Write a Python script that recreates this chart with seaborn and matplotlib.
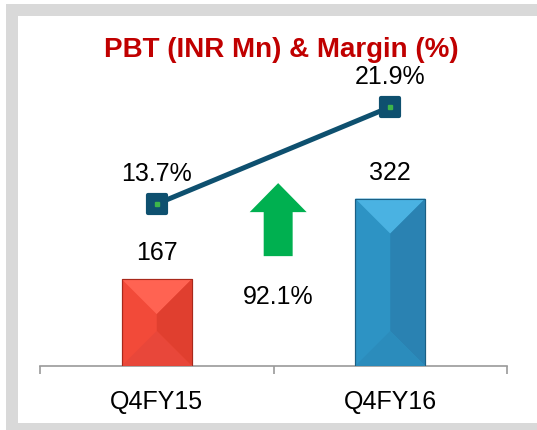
import numpy as np
import matplotlib
matplotlib.use("Agg")
import matplotlib.pyplot as plt
from matplotlib.patches import Polygon, FancyArrow
from matplotlib.markers import MarkerStyle
import matplotlib.transforms as mtransforms
import seaborn as sns

# data
quarters = ["Q4FY15", "Q4FY16"]
pbt = [167, 322]
margin = [13.7, 21.9]
pbt_labels = ["167", "322"]
margin_labels = ["13.7%", "21.9%"]
growth_label = "92.1%"
title = "PBT (INR Mn) & Margin (%)"

# colours: face, top, right, bottom, edge
bar_shades = [
    ("#F24A39", "#FF6352", "#E03F2F", "#E8473A", "#A8281B"),
    ("#2D93C4", "#4AB2E2", "#2A82B2", "#2B8CBC", "#1B5F84"),
]
line_color = "#0E506F"

sns.set_theme(style="white")
plt.rcParams["font.family"] = ["Liberation Sans", "DejaVu Sans"]

W, H = 537, 430
fig = plt.figure(figsize=(W / 100, H / 100), dpi=100, facecolor="white")

# grey frame: top, left and bottom strips (the right side runs off the slide)
grey = "#D9D9D9"
for (x, y, w, h) in [(6, 4, W, 12), (6, 4, 12, H), (6, 423, W, 10)]:
    fig.add_artist(plt.Rectangle((x / W, 1 - (y + h) / H), w / W, h / H,
                                 transform=fig.transFigure, facecolor=grey,
                                 edgecolor="none", zorder=-1))

ax = fig.add_axes([40 / W, 64 / H, 467 / W, 326 / H])
ax.set_facecolor("none")

sns.barplot(x=quarters, y=pbt, hue=quarters, palette=[s[0] for s in bar_shades],
            width=0.30, legend=False, ax=ax, saturation=1)
ax.set_xlim(-0.5, 1.5)
ax.set_ylim(0, 627)

# bevelled look on each bar
inv = ax.transData.inverted()
for patch, shade in zip(ax.patches, bar_shades):
    x0, y0 = patch.get_x(), 0
    x1, y1 = patch.get_x() + patch.get_width(), patch.get_height()
    (px0, py0), (px1, py1) = ax.transData.transform([(x0, y0), (x1, y1)])
    pc = (px0 + px1) / 2
    d = min((px1 - px0) / 2, (py1 - py0) / 2)
    faces = [
        ([(px0, py1), (px1, py1), (pc, py1 - d)], shade[1]),
        ([(px1, py0), (px1, py1), (pc, py1 - d), (pc, py0 + d)], shade[2]),
        ([(px0, py0), (px1, py0), (pc, py0 + d)], shade[3]),
    ]
    for pts, col in faces:
        ax.add_patch(Polygon(inv.transform(pts), closed=True, facecolor=col,
                             edgecolor="none", zorder=3))
    patch.set_edgecolor(shade[4])
    patch.set_linewidth(0.8)
    patch.set_zorder(2)
    ax.add_patch(plt.Rectangle((x0, y0), x1 - x0, y1, facecolor="none",
                               edgecolor=shade[4], linewidth=0.8, zorder=4))

for i, (v, lab) in enumerate(zip(pbt, pbt_labels)):
    ax.annotate(lab, (i, v), xytext=(0, 18.7), textcoords="offset points",
                ha="center", va="center", fontsize=18, color="black")

# axis styling
for side in ["top", "right", "left"]:
    ax.spines[side].set_visible(False)
ax.spines["bottom"].set_color("#9A9A9A")
ax.spines["bottom"].set_linewidth(1.2)
ax.set_yticks([])
ax.set_xticks(range(len(quarters)))
ax.set_xticklabels(quarters, fontsize=18, color="black")
ax.tick_params(axis="x", which="major", length=0, pad=17)
ax.set_xticks([-0.5, 0.5, 1.5], minor=True)
ax.tick_params(axis="x", which="minor", length=6, width=1.2, color="#9A9A9A",
               direction="out", bottom=True)
ax.set_xlabel("")
ax.set_ylabel("")

# margin line
ax2 = ax.twinx()
ax2.set_facecolor("none")
xpos = np.arange(len(quarters))
sns.lineplot(x=xpos, y=margin, color=line_color, linewidth=3.6, ax=ax2,
             marker=MarkerStyle("s", joinstyle="round"), markersize=13,
             markerfacecolor=line_color, markeredgecolor=line_color,
             markeredgewidth=3)
ax2.plot(xpos, margin, linestyle="none", marker="s", markersize=3.2,
         markerfacecolor="#3DB54A", markeredgecolor="#3DB54A")
ax2.set_ylim(0, 27.56)
ax2.set_xlim(-0.5, 1.5)
ax2.set_yticks([])
ax2.set_ylabel("")
for side in ax2.spines:
    ax2.spines[side].set_visible(False)
for i, (v, lab) in enumerate(zip(margin, margin_labels)):
    ax2.annotate(lab, (i, v), xytext=(0, 21.5), textcoords="offset points",
                 ha="center", va="center", fontsize=18, color="black")

# growth arrow
blend = mtransforms.blended_transform_factory(ax.transData, ax.transAxes)
ax.add_patch(FancyArrow(0.52, 0.337, 0, 0.224, width=0.124, head_width=0.244,
                        head_length=0.089, length_includes_head=True,
                        transform=blend, facecolor="#00B050", edgecolor="none",
                        zorder=3))
ax.text(0.52, 0.212, growth_label, transform=blend, ha="center", va="center",
        fontsize=18, color="black")

fig.text(281 / W, 1 - 50 / H, title, ha="center", va="center", fontsize=20,
         fontweight="bold", color="#C00000")

fig.savefig("out.png", dpi=100)
